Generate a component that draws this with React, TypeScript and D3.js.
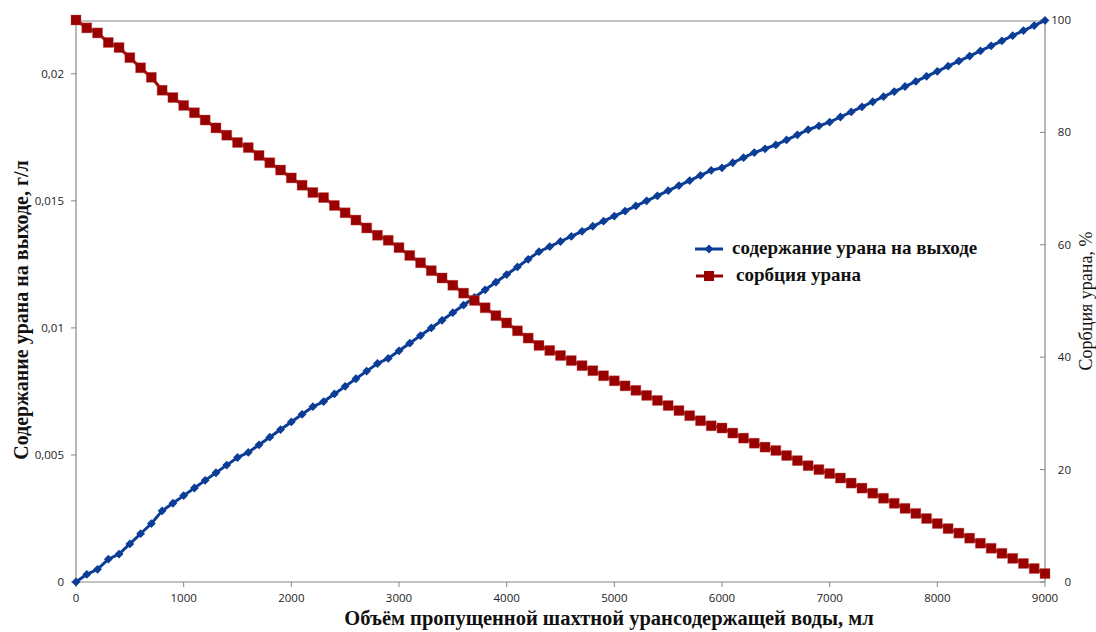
import React from "react";
import * as d3 from "d3";

// Volume of mine water passed through the column, ml (step 100 ml)
const volumes: number[] = d3.range(0, 9001, 100);

// Uranium content at the outlet, g/l
const outletContent: number[] = [
  0, 0.0003, 0.0005, 0.0009, 0.0011, 0.0015, 0.0019, 0.0023, 0.0028, 0.0031,
  0.0034, 0.0037, 0.004, 0.0043, 0.0046, 0.0049, 0.0051, 0.0054, 0.0057, 0.006,
  0.0063, 0.0066, 0.0069, 0.0071, 0.0074, 0.0077, 0.008, 0.0083, 0.0086, 0.0088,
  0.0091, 0.0094, 0.0097, 0.01, 0.0103, 0.0106, 0.0109, 0.0112, 0.0115, 0.0118,
  0.0121, 0.0124, 0.0127, 0.013, 0.0132, 0.0134, 0.0136, 0.0138, 0.014, 0.0142,
  0.0144, 0.0146, 0.0148, 0.015, 0.0152, 0.0154, 0.0156, 0.0158, 0.016, 0.0162,
  0.0163, 0.0165, 0.0167, 0.0169, 0.01705, 0.0172, 0.0174, 0.0176, 0.0178, 0.01795,
  0.0181, 0.0183, 0.0185, 0.0187, 0.0189, 0.0191, 0.0193, 0.0195, 0.0197, 0.0199,
  0.0201, 0.0203, 0.0205, 0.0207, 0.0209, 0.0211, 0.0213, 0.0215, 0.0217, 0.0219,
  0.0221,
];

// Uranium sorption, %
const sorption: number[] = [
  100, 98.6, 97.7, 96.0, 95.1, 93.3, 91.5, 89.8, 87.5, 86.2,
  84.8, 83.5, 82.2, 80.8, 79.5, 78.2, 77.3, 75.9, 74.6, 73.3,
  71.9, 70.6, 69.3, 68.4, 67.0, 65.7, 64.4, 63.0, 61.7, 60.8,
  59.5, 58.1, 56.8, 55.4, 54.1, 52.8, 51.4, 50.1, 48.8, 47.4,
  46.1, 44.7, 43.4, 42.1, 41.2, 40.3, 39.4, 38.5, 37.6, 36.7,
  35.8, 34.9, 34.1, 33.2, 32.3, 31.4, 30.5, 29.6, 28.7, 27.8,
  27.4, 26.5, 25.6, 24.7, 24.0, 23.4, 22.5, 21.6, 20.7, 20.0,
  19.3, 18.5, 17.6, 16.7, 15.8, 14.9, 14.0, 13.1, 12.2, 11.3,
  10.4, 9.5, 8.7, 7.8, 6.9, 6.0, 5.1, 4.2, 3.3, 2.4,
  1.5,
];

const xTicks: number[] = [0, 1000, 2000, 3000, 4000, 5000, 6000, 7000, 8000, 9000];
const leftTicks: number[] = [0, 0.005, 0.01, 0.015, 0.02];
const leftTickLabels: string[] = ["0", "0,005", "0,01", "0,015", "0,02"];
const rightTicks: number[] = [0, 20, 40, 60, 80, 100];

const seriesNames: string[] = ["содержание урана на выходе", "сорбция урана"];
const xTitle = "Объём пропущенной шахтной урансодержащей воды, мл";
const leftTitle = "Содержание урана на выходе, г/л";
const rightTitle = "Сорбция урана, %";

const W = 1096;
const H = 632;
const plot = { left: 76, right: 1045, top: 21, bottom: 582 };

const BLUE = "#0b3d97";
const RED = "#990000";
const AXIS = "#868686";
const tickFont = "'Open Sans', 'DejaVu Sans', sans-serif";
const titleFont = "'Liberation Serif', 'DejaVu Serif', serif";

export default function App() {
  const x = d3.scaleLinear().domain([0, 9000]).range([plot.left, plot.right]);
  const yL = d3.scaleLinear().domain([0, 0.022]).range([plot.bottom, plot.top + 2]);
  const yR = d3.scaleLinear().domain([0, 100]).range([plot.bottom, plot.top - 1]);

  const blueLine = d3
    .line<number>()
    .x((_, i) => x(volumes[i]))
    .y((d) => yL(d));
  const redLine = d3
    .line<number>()
    .x((_, i) => x(volumes[i]))
    .y((d) => yR(d));

  const diamond = (cx: number, cy: number, r: number) =>
    `M${cx},${cy - r}L${cx + r},${cy}L${cx},${cy + r}L${cx - r},${cy}Z`;

  return (
    <svg
      width={W}
      height={H}
      style={{ position: "absolute", left: 0, top: 0, background: "#fff" }}
    >
      <rect x={0} y={0} width={W} height={H} fill="#fff" />

      {/* frame: top border and axis lines */}
      <line x1={plot.left} x2={plot.right} y1={plot.top} y2={plot.top} stroke={AXIS} strokeWidth={1.2} />
      <line x1={plot.left} x2={plot.left} y1={plot.top} y2={plot.bottom} stroke={AXIS} strokeWidth={1.2} />
      <line x1={plot.right} x2={plot.right} y1={plot.top} y2={plot.bottom} stroke={AXIS} strokeWidth={1.2} />
      <line x1={plot.left} x2={plot.right} y1={plot.bottom} y2={plot.bottom} stroke={AXIS} strokeWidth={1.2} />

      {/* x axis */}
      {xTicks.map((t) => (
        <g key={`x${t}`}>
          <line x1={x(t)} x2={x(t)} y1={plot.bottom} y2={plot.bottom + 5} stroke={AXIS} />
          <text x={x(t)} y={plot.bottom + 20} textAnchor="middle" fontFamily={tickFont} fontSize={11.5} fill="#222">
            {t}
          </text>
        </g>
      ))}

      {/* left axis */}
      {leftTicks.map((t, i) => (
        <g key={`l${t}`}>
          <line x1={plot.left - 5} x2={plot.left} y1={yL(t)} y2={yL(t)} stroke={AXIS} />
          <text x={plot.left - 12} y={yL(t) + 4} textAnchor="end" fontFamily={tickFont} fontSize={11.5} fill="#222">
            {leftTickLabels[i]}
          </text>
        </g>
      ))}

      {/* right axis */}
      {rightTicks.map((t) => (
        <g key={`r${t}`}>
          <line x1={plot.right - 5} x2={plot.right} y1={yR(t)} y2={yR(t)} stroke={AXIS} />
          <text x={1071} y={yR(t) + 4} textAnchor="end" fontFamily={tickFont} fontSize={11.5} fill="#222">
            {t}
          </text>
        </g>
      ))}

      {/* outlet content series */}
      <path d={blueLine(outletContent) ?? ""} fill="none" stroke={BLUE} strokeWidth={3} />
      {outletContent.map((v, i) => (
        <path key={`b${i}`} d={diamond(x(volumes[i]), yL(v), 4.4)} fill={BLUE} />
      ))}

      {/* sorption series */}
      <path d={redLine(sorption) ?? ""} fill="none" stroke={RED} strokeWidth={3} />
      {sorption.map((v, i) => (
        <rect
          key={`r${i}`}
          x={x(volumes[i]) - 5}
          y={yR(v) - 5}
          width={10}
          height={10}
          fill={RED}
          stroke="#c0504d"
          strokeOpacity={0.35}
          strokeWidth={1}
        />
      ))}

      {/* legend */}
      <g>
        <line x1={695} x2={723} y1={249} y2={249} stroke={BLUE} strokeWidth={3} />
        <path d={diamond(709, 249, 4.4)} fill={BLUE} />
        <text x={732} y={254} fontFamily={titleFont} fontWeight="bold" fontSize={19} fill="#111">
          {seriesNames[0]}
        </text>
        <line x1={696} x2={723} y1={276} y2={276} stroke={RED} strokeWidth={3} />
        <rect x={704} y={271} width={10} height={10} fill={RED} />
        <text x={736} y={281} fontFamily={titleFont} fontWeight="bold" fontSize={19} fill="#111">
          {seriesNames[1]}
        </text>
      </g>

      {/* axis titles */}
      <text
        x={609}
        y={625}
        textAnchor="middle"
        fontFamily={titleFont}
        fontWeight="bold"
        fontSize={20.5}
        fill="#111"
      >
        {xTitle}
      </text>
      <text
        transform={`translate(28,${310}) rotate(-90)`}
        textAnchor="middle"
        fontFamily={titleFont}
        fontWeight="bold"
        fontSize={20}
        fill="#111"
      >
        {leftTitle}
      </text>
      <text
        transform={`translate(1092,${301}) rotate(-90)`}
        textAnchor="middle"
        fontFamily={titleFont}
        fontSize={18}
        fill="#111"
      >
        {rightTitle}
      </text>
    </svg>
  );
}
